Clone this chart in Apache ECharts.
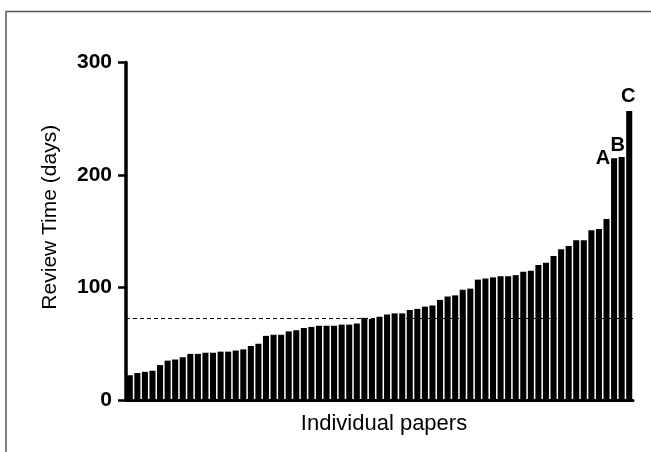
<!DOCTYPE html>
<html>
<head>
<meta charset="utf-8">
<script src="https://cdn.jsdelivr.net/npm/echarts@6/dist/echarts.min.js"></script>
<style>
  html, body { margin: 0; padding: 0; background: #fff; }
  #chart { width: 651px; height: 452px; }
</style>
</head>
<body>
<div id="chart"></div>
<script>
// review time of each paper, sorted ascending (days)
const reviewDays = [
    22, 24, 25, 26, 31, 35, 36, 38, 41, 41,
    42, 42, 43, 43, 44, 45, 48, 50, 57, 58,
    58, 61, 62, 64, 65, 66, 66, 66, 67, 67,
    68, 73, 72, 74, 76, 77, 77, 80, 81, 83,
    84, 89, 92, 93, 98, 99, 107, 108, 109, 110,
    110, 111, 114, 115, 120, 122, 128, 134, 137, 142,
    142, 151, 152, 161, 215, 216, 257,
];
const papers = reviewDays.map((_, i) => 'Paper ' + (i + 1));
const medianDays = 73;
const yTicks = [0, 100, 200, 300];
const flagLetters = ['A', 'B', 'C'];   // last three papers

const FONT = '"Liberation Sans", Arial, Helvetica, sans-serif';

// where each letter sits relative to its bar's top-left corner
const flagPos = [[-8, 0], [-1, -12], [2, -14]];

const barData = reviewDays.map((v, i) => {
    const k = i - (reviewDays.length - flagLetters.length);
    if (k < 0) return v;
    return {
        value: v,
        label: {
            show: true,
            formatter: flagLetters[k],
            position: flagPos[k],
            align: 'center',
            verticalAlign: 'middle',
            color: '#000',
            fontFamily: FONT,
            fontWeight: 'bold',
            fontSize: 20,
        },
    };
});

const chart = echarts.init(document.getElementById('chart'), null, {renderer: 'canvas'});
chart.setOption({
    animation: false,
    backgroundColor: '#fff',
    grid: {left: 126, right: 18, top: 62.5, bottom: 52},
    graphic: [{
        type: 'rect',
        shape: {x: 6, y: 11.5, width: 700, height: 500},
        style: {fill: 'none', stroke: '#555', lineWidth: 1.5},
        silent: true,
    }],
    xAxis: {
        type: 'category',
        data: papers,
        name: 'Individual papers',
        nameLocation: 'middle',
        nameGap: 13,
        nameTextStyle: {fontFamily: FONT, fontSize: 22, color: '#000', padding: [0, 0, 0, 9]},
        axisLine: {lineStyle: {color: '#000', width: 3}},
        axisTick: {show: false},
        axisLabel: {show: false},
        splitLine: {show: false},
    },
    yAxis: {
        type: 'value',
        min: yTicks[0],
        max: yTicks[yTicks.length - 1],
        interval: 100,
        name: 'Review Time (days)',
        nameLocation: 'middle',
        nameRotate: 90,
        nameGap: 65,
        nameTextStyle: {fontFamily: FONT, fontSize: 21, color: '#000', padding: [0, 0, 0, 28]},
        axisLine: {show: true, lineStyle: {color: '#000', width: 3.5}},
        axisTick: {show: true, length: 8, lineStyle: {color: '#000', width: 2.5}},
        axisLabel: {
            margin: 14,
            fontFamily: FONT,
            fontWeight: 'bold',
            fontSize: 21,
            color: '#000',
        },
        splitLine: {show: false},
    },
    series: [{
        type: 'bar',
        data: barData,
        barCategoryGap: '20%',
        itemStyle: {color: '#000'},
        markLine: {
            silent: true,
            symbol: 'none',
            label: {show: false},
            lineStyle: {color: '#000', width: 1, type: [4, 3]},
            data: [{yAxis: medianDays}],
        },
    }],
});
</script>
</body>
</html>
